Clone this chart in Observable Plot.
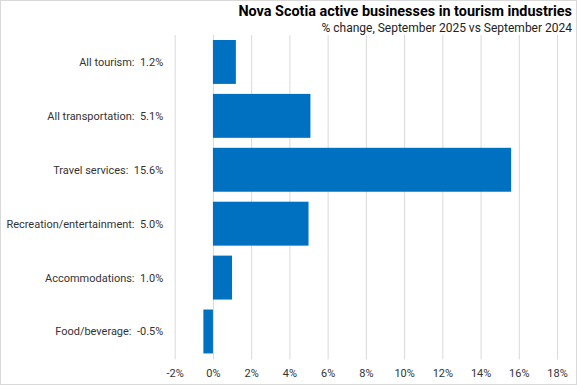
<!DOCTYPE html>
<html><head><meta charset="utf-8">
<script src="https://cdn.jsdelivr.net/npm/d3@7"></script>
<script src="https://cdn.jsdelivr.net/npm/@observablehq/plot@0.6"></script>
<style>
body{margin:0;background:#fff;}
#wrap{position:relative;width:575px;height:383px;border:1px solid #d9d9d9;overflow:hidden;font-family:Roboto,"Liberation Sans",sans-serif;}
#title{position:absolute;right:4px;top:2px;font-weight:bold;font-size:14.4px;color:#000;white-space:nowrap;}
#sub{position:absolute;right:4px;top:20px;font-size:12px;color:#222;white-space:nowrap;}
#chart{position:absolute;left:-1px;top:33px;}
</style></head><body>
<div id="wrap">
<div id="title">Nova Scotia active businesses in tourism industries</div>
<div id="sub">% change, September 2025 vs September 2024</div>
<div id="chart"></div>
</div>
<script>
const categories = ["All tourism", "All transportation", "Travel services", "Recreation/entertainment", "Accommodations", "Food/beverage"];
const values = [1.2, 5.1, 15.6, 5.0, 1.0, -0.5];
const xTicks = [-2, 0, 2, 4, 6, 8, 10, 12, 14, 16, 18];

const data = categories.map((c, i) => ({label: `${c}:  ${values[i].toFixed(1)}%`, value: values[i]}));

const chart = Plot.plot({
  width: 577,
  height: 351,
  marginTop: 1,
  marginBottom: 25,
  marginLeft: 175,
  marginRight: 19,
  style: {fontFamily: "Roboto, 'Liberation Sans', sans-serif", fontSize: "11px", color: "#333"},
  x: {domain: [-2, 18], ticks: xTicks, tickFormat: d => d + "%", label: null, tickSize: 0, tickPadding: 9},
  y: {domain: data.map(d => d.label), paddingInner: 0.185, paddingOuter: 0.0925, label: null, tickSize: 0, tickPadding: 12},
  marks: [
    Plot.gridX(xTicks, {stroke: "#d9d9d9", strokeOpacity: 1}),
    Plot.barX(data, {x: "value", y: "label", fill: "#0070C0"}),
    Plot.axisY({tickSize: 0, tickPadding: 12, label: null}),
    Plot.axisX({ticks: xTicks, tickFormat: d => d + "%", tickSize: 0, tickPadding: 9, label: null})
  ]
});
document.getElementById("chart").appendChild(chart);
</script>
</body></html>
